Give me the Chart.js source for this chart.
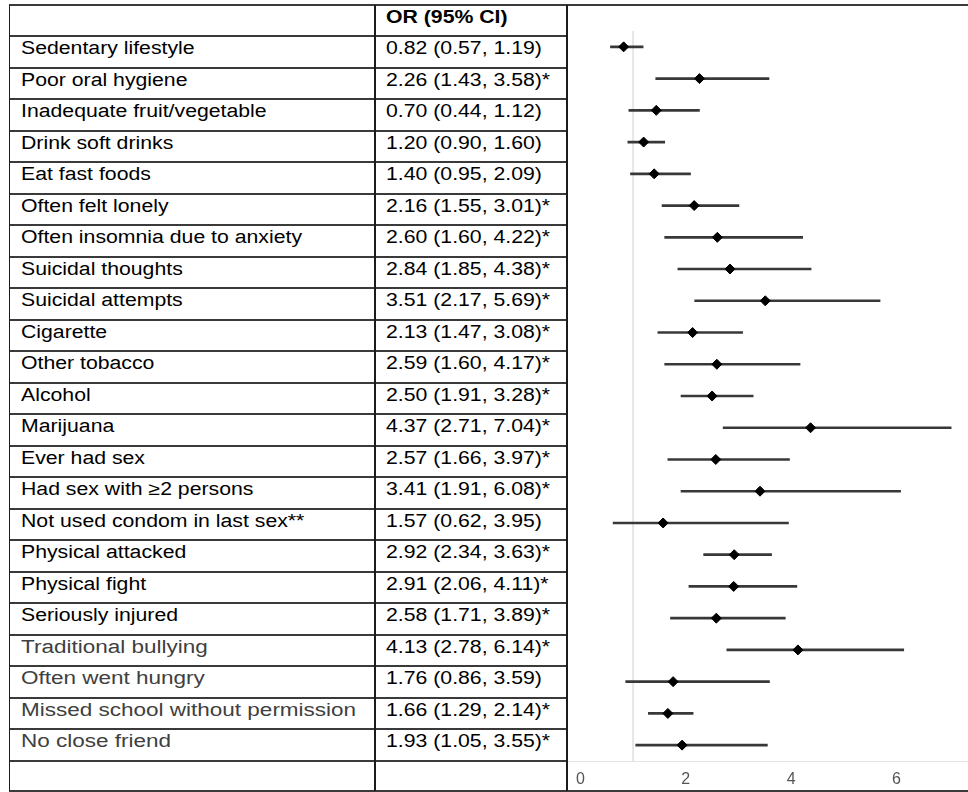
<!DOCTYPE html>
<html>
<head>
<meta charset="utf-8">
<script src="https://cdn.jsdelivr.net/npm/chart.js@4.4.1/dist/chart.umd.min.js"></script>
<style>
  html, body { margin: 0; padding: 0; background: #fff; }
  body { width: 968px; height: 792px; position: relative; overflow: hidden; font-family: "Liberation Sans", Arial, sans-serif; }
  .hline { position: absolute; height: 2px; background: #3a3a3a; }
  .vline { position: absolute; width: 2px; background: #1c1c1c; }
  .cell { position: absolute; font-size: 18px; line-height: 20px; white-space: nowrap; color: #000; }
  .cell span { display: inline-block; transform-origin: 0 0; transform: scaleX(1.18); }
  .cell.soft { color: #404040; }
  .cell.soft span { transform: scaleX(1.25); }
  .cell.head { font-weight: bold; }
  #plot { position: absolute; left: 567px; top: 0; width: 401px; height: 792px; }
</style>
</head>
<body>
<div id="table"></div>
<div id="plot"><canvas id="forest"></canvas></div>
<script>
const factors = [
  'Sedentary lifestyle', 'Poor oral hygiene', 'Inadequate fruit/vegetable', 'Drink soft drinks',
  'Eat fast foods', 'Often felt lonely', 'Often insomnia due to anxiety', 'Suicidal thoughts',
  'Suicidal attempts', 'Cigarette', 'Other tobacco', 'Alcohol', 'Marijuana', 'Ever had sex',
  'Had sex with ≥2 persons', 'Not used condom in last sex**', 'Physical attacked', 'Physical fight',
  'Seriously injured', 'Traditional bullying', 'Often went hungry', 'Missed school without permission',
  'No close friend'
];
const orText = [
  '0.82 (0.57, 1.19)', '2.26 (1.43, 3.58)*', '0.70 (0.44, 1.12)', '1.20 (0.90, 1.60)',
  '1.40 (0.95, 2.09)', '2.16 (1.55, 3.01)*', '2.60 (1.60, 4.22)*', '2.84 (1.85, 4.38)*',
  '3.51 (2.17, 5.69)*', '2.13 (1.47, 3.08)*', '2.59 (1.60, 4.17)*', '2.50 (1.91, 3.28)*',
  '4.37 (2.71, 7.04)*', '2.57 (1.66, 3.97)*', '3.41 (1.91, 6.08)*', '1.57 (0.62, 3.95)',
  '2.92 (2.34, 3.63)*', '2.91 (2.06, 4.11)*', '2.58 (1.71, 3.89)*', '4.13 (2.78, 6.14)*',
  '1.76 (0.86, 3.59)', '1.66 (1.29, 2.14)*', '1.93 (1.05, 3.55)*'
];
// values as drawn in the plot
const orValues = [0.82, 2.26, 1.44, 1.20, 1.40, 2.16, 2.60, 2.84, 3.51, 2.13, 2.59, 2.50,
  4.37, 2.57, 3.41, 1.57, 2.92, 2.91, 2.58, 4.13, 1.76, 1.66, 1.93];
const ciLower = [0.57, 1.43, 0.92, 0.90, 0.95, 1.55, 1.60, 1.85, 2.17, 1.47, 1.60, 1.91,
  2.71, 1.66, 1.91, 0.62, 2.34, 2.06, 1.71, 2.78, 0.86, 1.29, 1.05];
const ciUpper = [1.19, 3.58, 2.26, 1.60, 2.09, 3.01, 4.22, 4.38, 5.69, 3.08, 4.17, 3.28,
  7.04, 3.97, 6.08, 3.95, 3.63, 4.11, 3.89, 6.14, 3.59, 2.14, 3.55];
const softRows = ['Traditional bullying', 'Often went hungry', 'Missed school without permission', 'No close friend'];
const headerText = 'OR (95% CI)';
const xTicks = [0, 2, 4, 6];
const refValue = 1;

// table
const table = document.getElementById('table');
const rowH = 31.48, top0 = 5;
const rowTop = i => top0 + rowH * i;

function addLine(cls, left, top, w, h) {
  const d = document.createElement('div');
  d.className = cls;
  d.style.left = left + 'px';
  d.style.top = top + 'px';
  if (w) d.style.width = w + 'px';
  if (h) d.style.height = h + 'px';
  table.appendChild(d);
  return d;
}
function addCell(text, left, top, extra) {
  const d = document.createElement('div');
  d.className = 'cell' + (extra ? ' ' + extra : '');
  d.style.left = left + 'px';
  d.style.top = (top + 2) + 'px';
  const s = document.createElement('span');
  s.textContent = text;
  d.appendChild(s);
  table.appendChild(d);
}

const nRows = factors.length + 2;
for (let k = 0; k <= nRows; k++) {
  const y = Math.min(rowTop(k), 791) - 1;
  const full = k === 0 || k === nRows;
  addLine('hline', 9, y, full ? 959 : 559);
}
addLine('vline', 9, 5, null, 786).style.width = '1px';
addLine('vline', 374, 5, null, 786);
addLine('vline', 566, 5, null, 786);

addCell(headerText, 386, rowTop(0), 'head');
factors.forEach((f, i) => {
  addCell(f, 21, rowTop(i + 1), softRows.includes(f) ? 'soft' : '');
  addCell(orText[i], 386, rowTop(i + 1));
});

// forest plot
const refLine = {
  id: 'refLine',
  beforeDatasetsDraw(chart) {
    const { ctx, chartArea, scales: { x } } = chart;
    const px = x.getPixelForValue(refValue);
    ctx.save();
    ctx.strokeStyle = '#e6e6e6';
    ctx.lineWidth = 2;
    ctx.beginPath();
    ctx.moveTo(px, chartArea.top);
    ctx.lineTo(px, chartArea.bottom);
    ctx.stroke();
    ctx.restore();
  }
};

new Chart(document.getElementById('forest'), {
  type: 'bar',
  data: {
    labels: factors,
    datasets: [
      {
        type: 'line',
        data: orValues,
        indexAxis: 'y',
        showLine: false,
        pointStyle: 'rectRot',
        pointRadius: 5,
        pointBackgroundColor: '#000',
        pointBorderColor: '#000',
        pointBorderWidth: 1,
        order: 1
      },
      {
        type: 'bar',
        data: factors.map((f, i) => [ciLower[i], ciUpper[i]]),
        backgroundColor: '#383838',
        barThickness: 2,
        order: 2
      }
    ]
  },
  options: {
    indexAxis: 'y',
    responsive: true,
    maintainAspectRatio: false,
    animation: false,
    layout: { autoPadding: false, padding: { top: 31, left: 0, right: 0, bottom: 0 } },
    plugins: { legend: { display: false }, tooltip: { enabled: false } },
    scales: {
      x: {
        type: 'linear',
        min: -0.22,
        max: 7.36,
        grid: { display: false, drawTicks: false },
        border: { display: true, color: '#e3e3e3', width: 1 },
        afterBuildTicks: s => { s.ticks = xTicks.map(v => ({ value: v })); },
        afterFit: s => { s.height = 31; },
        ticks: { padding: 9, color: '#555', font: { family: 'Liberation Sans', size: 16 } }
      },
      y: { display: false, offset: true }
    }
  },
  plugins: [refLine]
});
</script>
</body>
</html>
